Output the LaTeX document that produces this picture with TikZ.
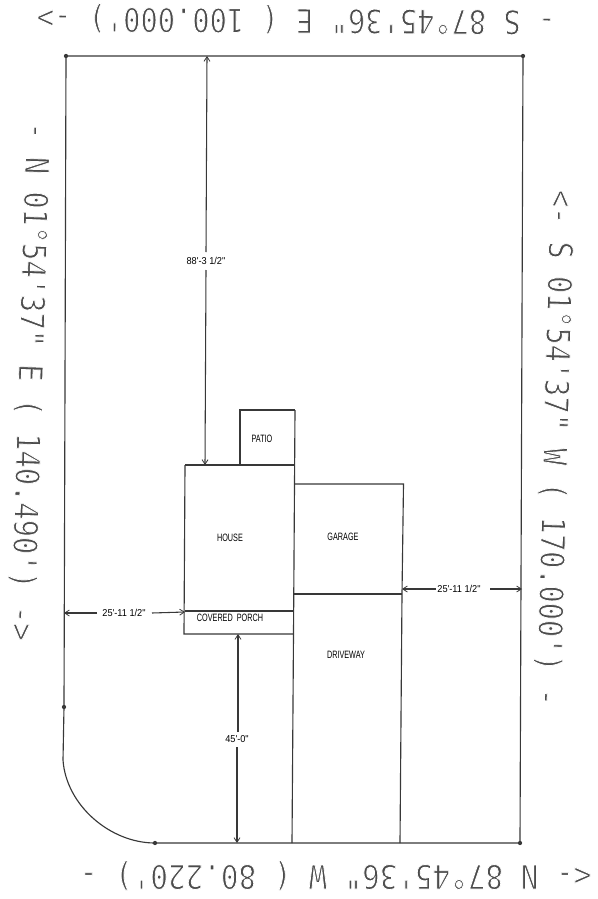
\documentclass[tikz,border=0pt]{standalone}
\usepackage{fontspec}
\usetikzlibrary{arrows.meta}
\newfontfamily\cadbig{DejaVu Sans Mono}
\newfontfamily\cadsmall{Liberation Sans}
\definecolor{ink}{gray}{0.22}
\definecolor{bigink}{gray}{0.30}
\newcommand{\thintext}[1]{\special{pdf:code q 2 Tr 1 1 1 RG 0.65 w}#1\special{pdf:code Q}}
\tikzset{
  x=0.75pt,y=-0.75pt,
  plan/.style={draw=ink,line width=0.85pt,line join=miter},
  dimline/.style={draw=ink,line width=0.8pt,-{Straight Barb[length=3.5pt,width=4.5pt,line width=0.6pt]}},
  dimlabel/.style={inner sep=0pt,minimum width=0pt,text=black,font=\cadsmall\fontsize{7.5pt}{8pt}\selectfont,xscale=0.92},
  room/.style={inner sep=0pt,text=black,font=\cadsmall\fontsize{8pt}{9pt}\selectfont,xscale=0.68},
  bearing/.style={inner sep=0pt,text=bigink,font=\cadbig\fontsize{24.75pt}{26pt}\selectfont,text height=18pt,text depth=0pt},
  corner/.style={circle,fill=ink,inner sep=0pt,minimum size=3.2pt},
}
\begin{document}
\begin{tikzpicture}
\useasboundingbox (0,0) rectangle (597,899);
\fill[white] (0,0) rectangle (597,899);
% lot corners
\coordinate (tl) at (66,56);
\coordinate (tr) at (523,56);
\coordinate (br) at (520,843);
\coordinate (bl) at (155,843);
\coordinate (lm) at (64,707);
\coordinate (cs) at (63,760);
\draw[plan] (cs) -- (lm) -- (tl) -- (tr) -- (br) -- (bl)
  .. controls (110,843) and (66,805) .. (cs);
\foreach \c in {tl,tr,br,bl,lm} \node[corner] at (\c) {};
% buildings
\coordinate (dl) at (292,843);
\coordinate (dr) at (400,843);
\draw[plan] (185,465) -- (294,465);
\draw[plan] (185,465) -- (184,634) -- (293.5,634);
\draw[plan] (184.5,611) -- (293.5,611);
\draw[plan] (295,410) -- (293.5,634) -- (dl);
\draw[plan] (240,465) -- (240,410) -- (295,410);
\draw[plan] (294,484) -- (403.5,484) -- (402,594) -- (dr);
\draw[plan] (293.7,594) -- (402,594);
% room labels
\node[room] (patio) at (262,439) {PATIO};
\node[room] (house) at (230,538) {HOUSE};
\node[room] (garage) at (343,537) {GARAGE};
\node[room] (porch) at (230,618) {COVERED\ \ PORCH};
\node[room] (driveway) at (346,655) {DRIVEWAY};
% dimensions
\coordinate (d1t) at (207,56);
\coordinate (d1b) at (205,465);
\node[dimlabel] (d1) at (206,261) {88'-3 1/2"};
\draw[dimline] (206,252) -- (d1t);
\draw[dimline] (206,270) -- (d1b);
\coordinate (d2t) at (238,634);
\coordinate (d2b) at (237,843);
\node[dimlabel] (d2) at (237,739) {45'-0"};
\draw[dimline] (238,732) -- (d2t);
\draw[dimline] (237,747) -- (d2b);
\coordinate (d3l) at (64,613);
\coordinate (d3r) at (185,612);
\node[dimlabel] (d3) at (124,613) {25'-11 1/2"};
\draw[dimline] (97,613) -- (d3l);
\draw[dimline] (152,613) -- (d3r);
\coordinate (d4l) at (402,589);
\coordinate (d4r) at (522,589);
\node[dimlabel] (d4) at (459,589) {25'-11 1/2"};
\draw[dimline] (436,589) -- (d4l);
\draw[dimline] (490,589) -- (d4r);
% bearings
\node[rotate=179.64,bearing,xscale=0.87] (top) at (296,21) {\thintext{- S 87°45'36" E ( 100.000') ->}};
\node[rotate=180,bearing,xscale=0.888] (bottom) at (335.5,877) {\thintext{<- N 87°45'36" W ( 80.220') -}};
\node[rotate=-91.77,bearing,xscale=0.87] (left) at (30.5,381.5) {\thintext{- N 01°54'37" E ( 140.490') ->}};
\node[rotate=-91.54,bearing,xscale=0.866] (right) at (555.5,448) {\thintext{<- S 01°54'37" W ( 170.000') -}};
\end{tikzpicture}
\end{document}
